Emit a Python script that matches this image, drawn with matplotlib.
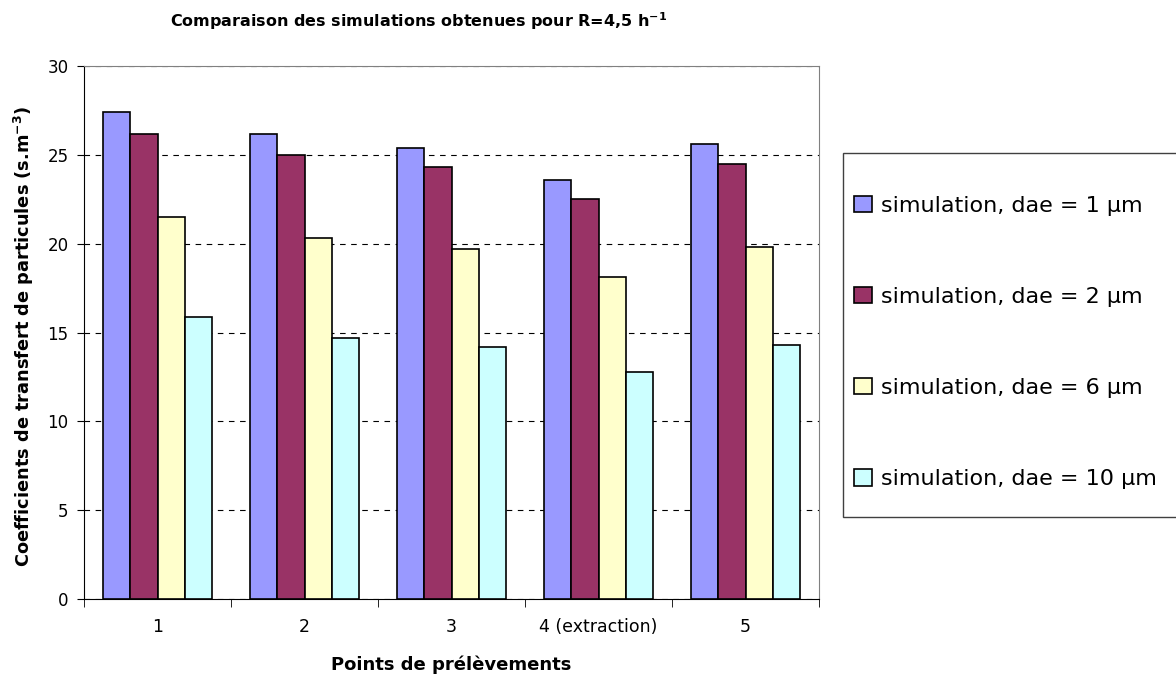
import matplotlib
matplotlib.use("Agg")
import matplotlib.pyplot as plt
from matplotlib.patches import Rectangle
import numpy as np

categories = ["1", "2", "3", "4 (extraction)", "5"]
series_labels = ["simulation, dae = 1 µm", "simulation, dae = 2 µm",
                 "simulation, dae = 6 µm", "simulation, dae = 10 µm"]
dae1 = [27.4, 26.2, 25.4, 23.6, 25.6]
dae2 = [26.2, 25.0, 24.3, 22.5, 24.5]
dae6 = [21.5, 20.3, 19.7, 18.1, 19.8]
dae10 = [15.9, 14.7, 14.2, 12.8, 14.3]
colors = ["#9999FF", "#993366", "#FFFFCC", "#CCFFFF"]

plt.rcParams['font.family'] = ['DejaVu Sans']

W, H = 1176, 681
fig = plt.figure(figsize=(W / 100, H / 100), dpi=100)
ax = fig.add_axes([84 / W, 1 - 599 / H, 735 / W, 533 / H])

x = np.arange(len(categories))
bw = 0.1837
series = [dae1, dae2, dae6, dae10]
for i, (vals, c, lab) in enumerate(zip(series, colors, series_labels)):
    ax.bar(x + (i - 1.5) * bw, vals, width=bw, color=c, edgecolor="black",
           linewidth=1.2, label=lab, zorder=3)

ax.set_xlim(-0.5, len(categories) - 0.5)
ax.set_ylim(0, 30)
ax.set_yticks(np.arange(0, 31, 5))
ax.yaxis.grid(True, linestyle=(0, (5, 5)), color="black", linewidth=0.8, zorder=0)
ax.set_xticks(x)
ax.set_xticklabels(categories, fontsize=12.5)
ax.tick_params(axis='x', length=0, pad=14)
ax.tick_params(axis='y', labelsize=12, length=5, direction='out', pad=6)
ax.set_xticks(np.arange(-0.5, len(categories)), minor=True)
ax.tick_params(axis='x', which='minor', length=6, direction='out', color='black')

for s in ["top", "right"]:
    ax.spines[s].set_color("#808080")
for s in ["left", "bottom"]:
    ax.spines[s].set_color("black")

fig.text(451 / W, 1 - 665 / H, "Points de prélèvements", ha='center', va='center',
         fontsize=13, fontweight='bold')
fig.text(24 / W, 1 - 336 / H,
         "Coefficients de transfert de particules (s.m$^{\\mathbf{-3}}$)",
         ha='center', va='center', rotation=90, fontsize=12.8, fontweight='bold')
fig.text(419 / W, 1 - 21 / H, "Comparaison des simulations obtenues pour R=4,5 h$^{\\mathbf{-1}}$",
         ha='center', va='center', fontsize=11.5, fontweight='bold')

# legend frame
fig.patches.append(Rectangle((843 / W, 1 - 517 / H), 400 / W, 364 / H,
                             transform=fig.transFigure, facecolor='white',
                             edgecolor='#404040', linewidth=1.0))
handles, labels = ax.get_legend_handles_labels()
leg = fig.legend(handles, labels, loc='center left',
                 bbox_to_anchor=(854 / W, 1 - 342.5 / H), fontsize=16,
                 frameon=False, labelspacing=3.2, borderpad=0, borderaxespad=0,
                 handlelength=0.8, handleheight=0.75, handletextpad=0.4)

fig.savefig("out.png", dpi=100)
